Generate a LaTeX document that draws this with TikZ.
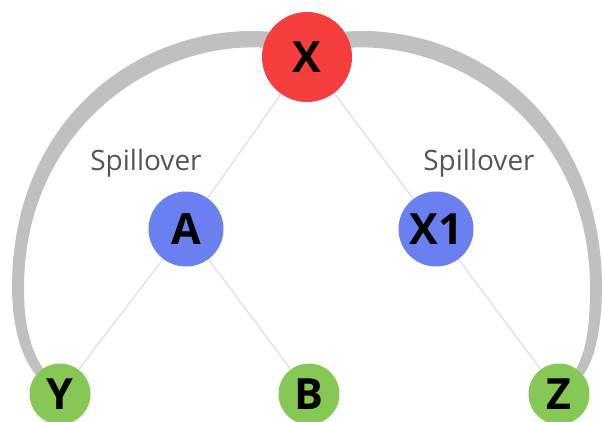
\documentclass[tikz,border=0pt]{standalone}
\usepackage{fontspec}
\setmainfont{Open Sans}
\usetikzlibrary{backgrounds}
\newlength{\du}
\setlength{\du}{1pt}
\definecolor{causered}{RGB}{246,62,62}
\definecolor{mediatorblue}{RGB}{106,128,240}
\definecolor{outcomegreen}{RGB}{134,200,86}
\definecolor{spillgray}{RGB}{192,192,192}
\definecolor{linkgray}{RGB}{226,226,226}
\definecolor{labelgray}{RGB}{85,85,85}
\tikzset{
  varnode/.style={circle,inner sep=0pt,text=black,font=\fontsize{43}{43}\selectfont\bfseries},
  causenode/.style={varnode,fill=causered,minimum size=90\du},
  medinode/.style={varnode,fill=mediatorblue,minimum size=75\du},
  leafnode/.style={varnode,fill=outcomegreen,minimum size=61\du},
  spilltext/.style={text=labelgray,font=\fontsize{28}{28}\selectfont},
  link/.style={draw=linkgray,line width=1.4\du},
  spillarc/.style={fill=spillgray}
}

\begin{document}
\begin{tikzpicture}
\pgftransformxscale{1.000000}
\pgftransformyscale{-1.000000}
\useasboundingbox (0\du,0\du) rectangle (603\du,421\du);
% nodes
\node[causenode] (X) at (307\du,57\du) {X};
\node[medinode] (A) at (186\du,229\du) {A};
\node[medinode] (X1) at (436\du,229\du) {X1};
\node[leafnode] (Y) at (60\du,394\du) {Y};
\node[leafnode] (B) at (309\du,394\du) {B};
\node[leafnode] (Z) at (559\du,394\du) {Z};
\node[spilltext] (spillA) at (146\du,163\du) {Spillover};
\node[spilltext] (spillX1) at (479\du,163\du) {Spillover};
\begin{pgfonlayer}{background}
% thin links
\draw[link] (X) -- (A);
\draw[link] (X) -- (X1);
\draw[link] (A) -- (Y);
\draw[link] (A) -- (B);
\draw[link] (X1) -- (Z);
% spillover arcs
\fill[spillarc] (X.146) .. controls (150\du,22\du) and (11\du,110\du) .. (12\du,290\du)
  .. controls (13\du,335\du) and (24\du,360\du) .. (Y.142)
  -- (Y.124) .. controls (33\du,353\du) and (24\du,330\du) .. (24\du,290\du)
  .. controls (23\du,132\du) and (150\du,42\du) .. (X.168) -- cycle;
\fill[spillarc] (X.34) .. controls (464\du,22\du) and (603\du,110\du) .. (602\du,290\du)
  .. controls (601\du,335\du) and (594\du,360\du) .. (Z.38)
  -- (Z.56) .. controls (585\du,353\du) and (590\du,330\du) .. (590\du,290\du)
  .. controls (591\du,132\du) and (464\du,42\du) .. (X.12) -- cycle;
\end{pgfonlayer}
\end{tikzpicture}
\end{document}
